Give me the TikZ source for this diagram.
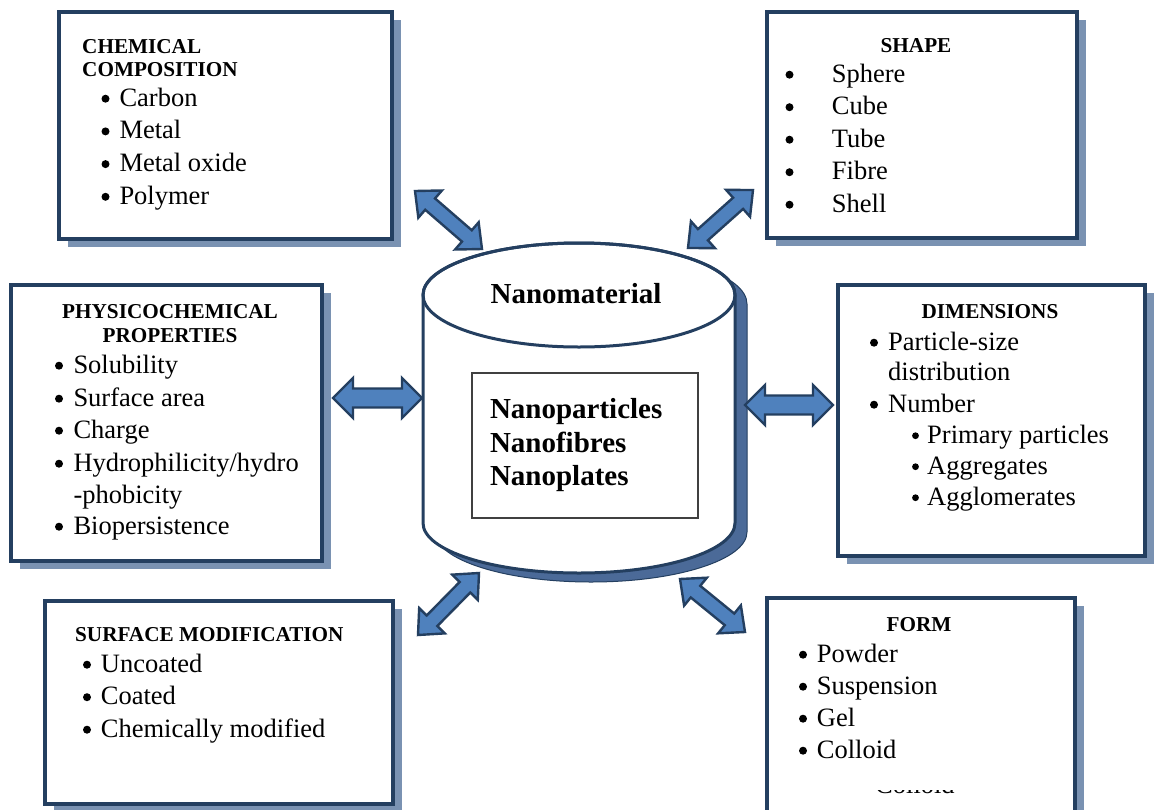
\documentclass[tikz,border=0pt]{standalone}
\usepackage{fontspec}
\setmainfont{Liberation Serif}
\usetikzlibrary{calc,shadows}
\definecolor{navy}{RGB}{36,63,96}
\definecolor{shadowc}{RGB}{122,146,178}
\definecolor{arrowfill}{RGB}{79,129,189}
\definecolor{cylshadow}{RGB}{75,106,152}
\definecolor{innerline}{RGB}{64,64,64}
\newcommand\bodyfont{\fontsize{26.5}{32.5}\selectfont}
\newcommand\headfont{\fontsize{21.2}{24}\selectfont\bfseries}
\newcommand\bigbold{\fontsize{29}{33.5}\selectfont\bfseries}
% bullet dot drawn left of a text node: node, x offset, radius
\newcommand\bulat[3]{\fill[black] ($(#1.base west)+(#2,-7.3)$) circle[radius=#3pt];}
\newcommand\dblarr[5]{%
 \filldraw[blockarrow] (#1)
 -- ($(#1)!#3!(#2)!#4!90:(#2)$)
 -- ($(#1)!#3!(#2)!#5!90:(#2)$)
 -- ($(#2)!#3!(#1)!#5!-90:(#1)$)
 -- ($(#2)!#3!(#1)!#4!-90:(#1)$)
 -- (#2)
 -- ($(#2)!#3!(#1)!#4!90:(#1)$)
 -- ($(#2)!#3!(#1)!#5!90:(#1)$)
 -- ($(#1)!#3!(#2)!#5!-90:(#2)$)
 -- ($(#1)!#3!(#2)!#4!-90:(#2)$)
 -- cycle;}
\tikzset{
 infobox/.style={draw=navy, line width=3.2pt, fill=white, anchor=north west, inner sep=0, outer sep=0,
   drop shadow={shadow xshift=9pt, shadow yshift=-8pt, fill=shadowc, opacity=1}},
 item/.style={anchor=base west, inner sep=0, font=\bodyfont},
 head/.style={anchor=base west, inner sep=0, font=\headfont},
 chead/.style={anchor=base, inner sep=0, font=\headfont},
 blockarrow/.style={fill=arrowfill, draw=navy, line width=2.4pt, line join=miter},
}
\begin{document}
\begin{tikzpicture}[x=1pt,y=-1pt]
\useasboundingbox (0,0) rectangle (1154,809);
\fill[white] (0,0) rectangle (1154,809);

% boxes
\node[infobox, minimum width=333, minimum height=227] (box1) at (59,12) {};
\node[infobox, minimum width=310, minimum height=226] (box2) at (767,12) {};
\node[infobox, minimum width=311, minimum height=276] (box3) at (11,285) {};
\node[infobox, minimum width=307, minimum height=271] (box4) at (838,285) {};
\node[infobox, minimum width=348, minimum height=203] (box5) at (45,601) {};
\node[infobox, minimum width=308, minimum height=225] (box6) at (767,598) {};

% box 1
\node[head] (h1a) at (82,53) {CHEMICAL};
\node[head] (h1b) at (82,76) {COMPOSITION};
\foreach \t [count=\i] in {Carbon,Metal,Metal oxide,Polymer}{
  \node[item] (b1-\i) at (119.3,{106+32.7*(\i-1)}) {\t};
  \bulat{b1-\i}{-13.8}{4}}

% box 2
\node[chead] (h2) at (916,52) {SHAPE};
\foreach \t [count=\i] in {Sphere,Cube,Tube,Fibre,Shell}{
  \node[item] (b2-\i) at (831.7,{82+32.5*(\i-1)}) {\t};
  \bulat{b2-\i}{-42.2}{4}}

% box 3
\node[chead] (h3a) at (170,318) {PHYSICOCHEMICAL};
\node[chead] (h3b) at (170,342) {PROPERTIES};
\node[item] (b3-1) at (73.3,373) {Solubility};
\node[item] (b3-2) at (73.3,406) {Surface area};
\node[item] (b3-3) at (73.3,438) {Charge};
\node[item] (b3-4) at (73.3,471) {Hydrophilicity/hydro};
\node[item] (b3-5) at (73.3,503) {-phobicity};
\node[item] (b3-6) at (73.3,534) {Biopersistence};
\foreach \i in {1,2,3,4,6}{\bulat{b3-\i}{-14.3}{4}}

% box 4
\node[chead] (h4) at (990,318) {DIMENSIONS};
\node[item] (b4-1) at (888,350) {Particle-size};
\node[item] (b4-2) at (888,380) {distribution};
\node[item] (b4-3) at (888,412) {Number};
\node[item] (b4-4) at (927,443) {Primary particles};
\node[item] (b4-5) at (927,474) {Aggregates};
\node[item] (b4-6) at (927,505) {Agglomerates};
\foreach \i in {1,3}{\bulat{b4-\i}{-14}{4}}
\foreach \i in {4,5,6}{\bulat{b4-\i}{-11.5}{3.4}}

% box 5
\node[head] (h5) at (75,641) {SURFACE MODIFICATION};
\foreach \t [count=\i] in {Uncoated,Coated,Chemically modified}{
  \node[item] (b5-\i) at (100.7,{672+32.5*(\i-1)}) {\t};
  \bulat{b5-\i}{-13.7}{4}}

% box 6
\node[chead] (h6) at (919,631) {FORM};
\foreach \t [count=\i] in {Powder,Suspension,Gel,Colloid}{
  \node[item] (b6-\i) at (816.7,{662+32*(\i-1)}) {\t};
  \bulat{b6-\i}{-13.7}{4}}
\begin{scope}
\clip (850,790.3) rectangle (990,793.4);
\node[item] (ghost) at (875,793) {Colloid};
\end{scope}

% cylinder shadow
\begin{scope}[shift={(12,9)}]
\filldraw[fill=cylshadow, draw=navy, line width=1pt]
  (423,295) -- (423,523) arc[start angle=180, end angle=0, x radius=156, y radius=50]
  -- (735,295) arc[start angle=0, end angle=-180, x radius=156, y radius=52] -- cycle;
\end{scope}
% cylinder
\filldraw[fill=white, draw=navy, line width=3pt]
  (423,295) -- (423,523) arc[start angle=180, end angle=0, x radius=156, y radius=50]
  -- (735,295) arc[start angle=0, end angle=-180, x radius=156, y radius=52] -- cycle;
\draw[navy, line width=3pt] (579,295) ellipse [x radius=156, y radius=52];
\node[font=\bigbold, anchor=base, inner sep=0] (nano) at (576,303) {Nanomaterial};
\node[draw=innerline, line width=1.2pt, minimum width=226, minimum height=145, inner sep=0,
  text width=190, align=left, font=\bigbold] (types) at (585,445.5)
  {Nanoparticles\\Nanofibres\\Nanoplates};

% arrows
\coordinate (a1s) at (415,191); \coordinate (a1e) at (482,249);
\coordinate (a2s) at (688,248); \coordinate (a2e) at (753,190);
\coordinate (a3s) at (333,398); \coordinate (a3e) at (422,398);
\coordinate (a4s) at (745,405); \coordinate (a4e) at (833,405);
\coordinate (a5s) at (418,635); \coordinate (a5e) at (479,573);
\coordinate (a6s) at (680,579); \coordinate (a6e) at (745,632);
\dblarr{a1s}{a1e}{20pt}{18pt}{7.5pt}
\dblarr{a2s}{a2e}{20pt}{18pt}{7.5pt}
\dblarr{a3s}{a3e}{20pt}{20pt}{9.5pt}
\dblarr{a4s}{a4e}{20pt}{20pt}{9.5pt}
\dblarr{a5s}{a5e}{20pt}{18pt}{7.5pt}
\dblarr{a6s}{a6e}{20pt}{18pt}{7.5pt}
\end{tikzpicture}
\end{document}
